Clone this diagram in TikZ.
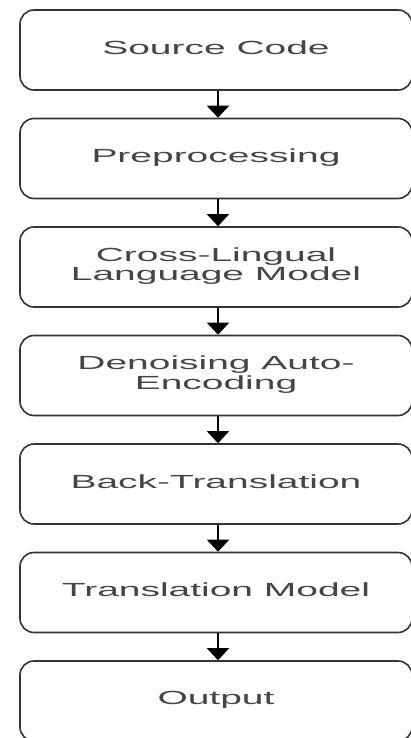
\documentclass[tikz,border=0pt]{standalone}
\usepackage{fontspec}
\usepackage{graphicx}
\setmainfont{Liberation Sans}
\usetikzlibrary{arrows.meta}
\definecolor{edgecol}{HTML}{333333}
\definecolor{textcol}{HTML}{454545}
\newcommand{\boxtext}[1]{\scalebox{2.05}[1]{\fontsize{19}{20}\selectfont\renewcommand{\arraystretch}{0.92}\begin{tabular}{@{}c@{}}#1\end{tabular}}}
\begin{document}
\begin{tikzpicture}[x=1pt,y=1pt,
  stepbox/.style={draw=edgecol, line width=1.6pt, rounded corners=14pt,
    minimum width=392pt, minimum height=80pt, inner sep=0pt,
    align=center, text=textcol},
  flow/.style={draw=black, line width=2pt,
    -{Triangle[width=22pt,length=12pt]}}]
\useasboundingbox (0,0) rectangle (411,-738);
\fill[white] (0,0) rectangle (411,-738);
\node[stepbox] (b1) at (216,-50)    {\boxtext{Source Code}};
\node[stepbox] (b2) at (216,-158.5) {\boxtext{Preprocessing}};
\node[stepbox] (b3) at (216,-267)   {\boxtext{Cross-Lingual\\Language Model}};
\node[stepbox] (b4) at (216,-375.5) {\boxtext{Denoising Auto-\\Encoding}};
\node[stepbox] (b5) at (216,-484)   {\boxtext{Back-Translation}};
\node[stepbox] (b6) at (216,-592.5) {\boxtext{Translation Model}};
\node[stepbox] (b7) at (216,-701)   {\boxtext{Output}};
\foreach \a/\b in {b1/b2,b2/b3,b3/b4,b4/b5,b5/b6,b6/b7}
  \draw[flow] ([xshift=2pt]\a.south) -- ([xshift=2pt]\b.north);
\end{tikzpicture}
\end{document}
